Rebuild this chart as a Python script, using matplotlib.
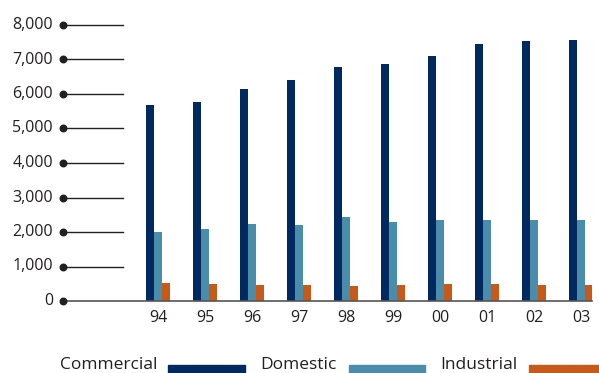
import numpy as np
import matplotlib.pyplot as plt
from matplotlib.patches import Rectangle

years = ["94", "95", "96", "97", "98", "99", "00", "01", "02", "03"]
commercial = [5680, 5770, 6140, 6400, 6780, 6870, 7100, 7450, 7540, 7570]
domestic = [2000, 2090, 2230, 2200, 2430, 2290, 2350, 2350, 2350, 2350]
industrial = [520, 490, 460, 460, 435, 460, 490, 490, 460, 460]
yticks = [0, 1000, 2000, 3000, 4000, 5000, 6000, 7000, 8000]

c_com = "#002a5f"
c_dom = "#4a8daa"
c_ind = "#c85a19"
txt = "#231f20"

W, H = 599, 373
fig = plt.figure(figsize=(W / 100, H / 100), dpi=100)
plt.rcParams["font.family"] = ["Open Sans", "DejaVu Sans"]

# axes box in pixel terms: x 63..592, y 0 at 301, 8000 at 25
ax = fig.add_axes([63 / W, 1 - 301 / H, (592 - 63) / W, (301 - 25) / H])
step = 47.0
ax.set_xlim((63 - 158) / step, (592 - 158) / step)
ax.set_ylim(0, 8000)

x = np.arange(len(years))
bw = 8 / step
ax.bar(x - bw, commercial, width=bw, color=c_com, align="center")
ax.bar(x, domestic, width=bw, color=c_dom, align="center")
ax.bar(x + bw, industrial, width=bw, color=c_ind, align="center")

# short gridline stubs with a dot on the left end
x0 = ax.get_xlim()[0]
x_stub = (123 - 158) / step
for v in yticks[1:]:
    ax.plot([x0, x_stub], [v, v], color=txt, lw=1.0, clip_on=False)
ax.plot([x0, ax.get_xlim()[1]], [0, 0], color="#555555", lw=1.2, clip_on=False)
ax.scatter([x0] * len(yticks), yticks, s=22, color=txt, clip_on=False, zorder=5)

for s in ax.spines.values():
    s.set_visible(False)
ax.set_xticks([])
ax.set_yticks([])

for v in yticks:
    ax.text(x0 - 10 / step, v, f"{v:,}", ha="right", va="center",
            fontsize=11.5, color=txt, fontweight="medium")
for xi, lab in zip(x, years):
    ax.text(xi, -500, lab, ha="center", va="center", fontsize=11.5,
            color=txt, fontweight="medium")

# legend row along the bottom
legend = [("Commercial", 60, 168, 245, c_com),
          ("Domestic", 260, 349, 425, c_dom),
          ("Industrial", 440, 529, 605, c_ind)]
for name, tx, p0, p1, col in legend:
    fig.text(tx / W, 1 - 369 / H, name, ha="left", va="baseline",
             fontsize=12.5, color=txt)
    fig.patches.append(Rectangle((p0 / W, 0), (p1 - p0) / W, 8 / H,
                                 transform=fig.transFigure, color=col))

fig.savefig("out.png", dpi=100)
